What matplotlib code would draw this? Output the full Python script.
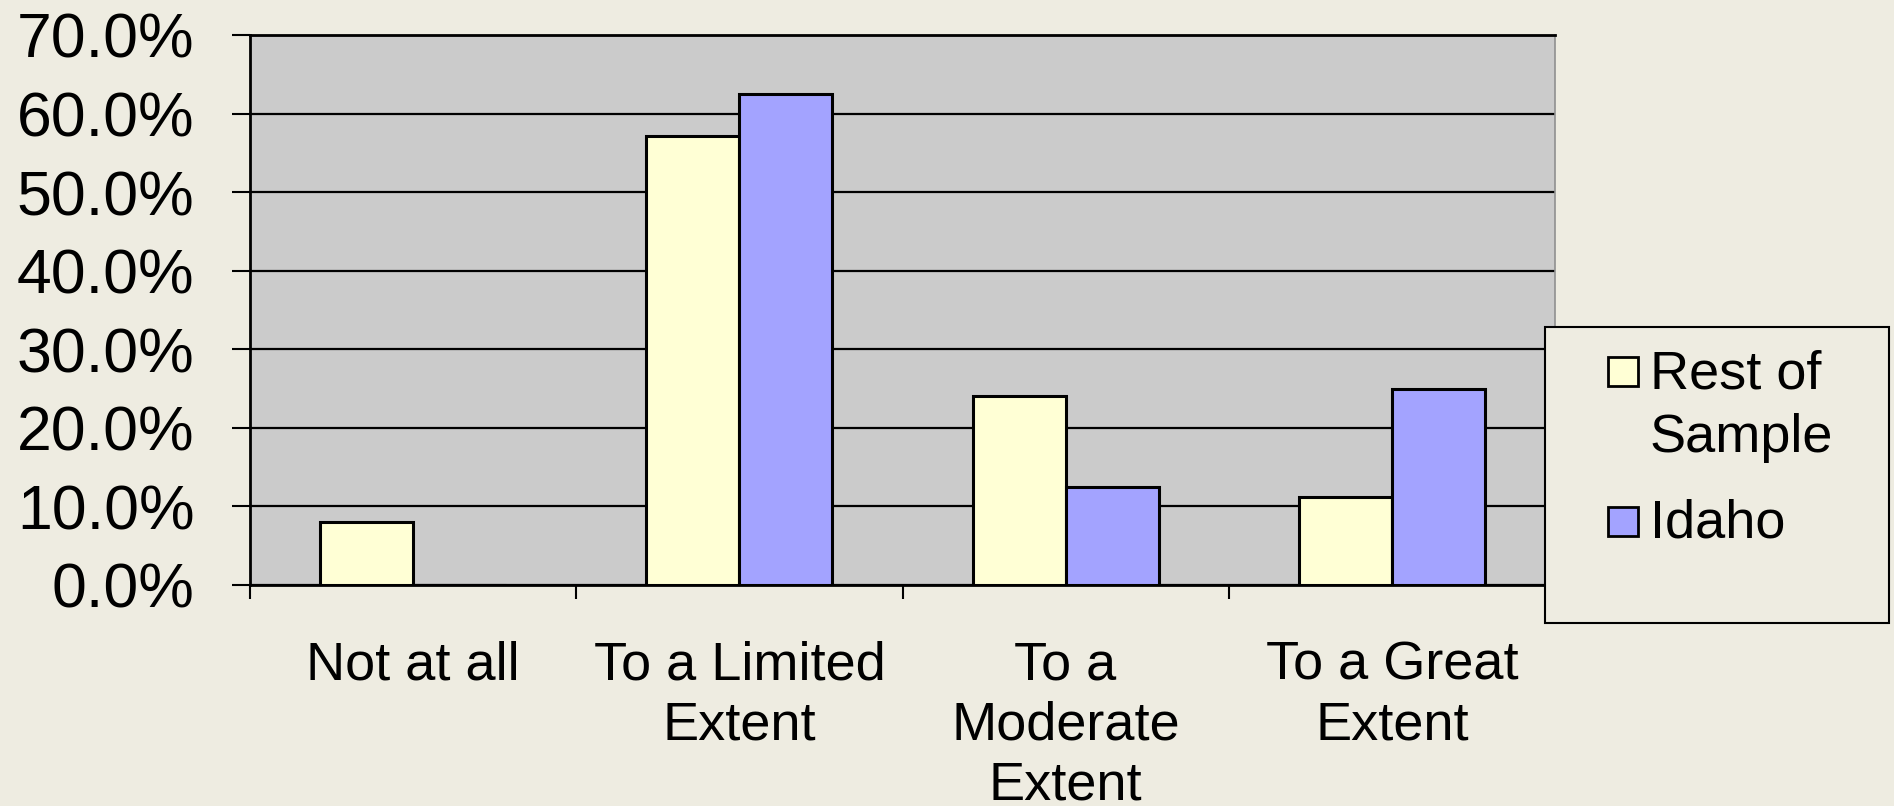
import matplotlib
matplotlib.use("Agg")
import matplotlib.pyplot as plt
import numpy as np
from matplotlib.patches import Rectangle

categories = ["Not at all", "To a Limited\nExtent", "To a\nModerate\nExtent", "To a Great\nExtent"]
series_names = ["Rest of\nSample", "Idaho"]
rest_of_sample = [8.0, 57.1, 24.0, 11.2]
idaho = [0.0, 62.5, 12.5, 25.0]
yticks = [0, 10, 20, 30, 40, 50, 60, 70]
ytick_labels = ["0.0%", "10.0%", "20.0%", "30.0%", "40.0%", "50.0%", "60.0%", "70.0%"]

BG = "#EEECE1"
PLOT_BG = "#CBCBCB"
C_REST = "#FFFFD5"
C_IDAHO = "#A3A3FF"
colors = [C_REST, C_IDAHO]

plt.rcParams['font.family'] = ['Liberation Sans', 'DejaVu Sans']

W, H = 1894, 806
fig = plt.figure(figsize=(W / 100, H / 100), dpi=100, facecolor=BG)
L, R, T, B = 250, 1555, 35, 585
ax = fig.add_axes([L / W, 1 - B / H, (R - L) / W, (B - T) / H])
ax.set_facecolor(PLOT_BG)

x = np.arange(len(categories))
bw = 0.285
ax.bar(x - bw / 2, rest_of_sample, bw, color=C_REST, edgecolor="black", linewidth=2.2, zorder=3)
ax.bar(x + bw / 2, idaho, bw, color=C_IDAHO, edgecolor="black", linewidth=2.2, zorder=3)

ax.set_xlim(-0.5, len(categories) - 0.5)
ax.set_ylim(0, 70)

ax.set_yticks(yticks)
ax.set_yticklabels(ytick_labels, fontsize=45)
ax.tick_params(axis='y', length=13, width=1.5, pad=27, colors='black')
ax.yaxis.grid(True, color='black', linewidth=1.6, zorder=1)
ax.set_axisbelow(True)

ax.set_xticks(np.arange(len(categories) + 1) - 0.5)
ax.set_xticklabels([])
ax.tick_params(axis='x', which='major', length=10, width=1.5, direction='out')
ax.set_xticks(x, minor=True)
ax.set_xticklabels(categories, minor=True, fontsize=39, linespacing=1.26)
ax.tick_params(axis='x', which='minor', length=0, pad=40)

for s in ['left', 'bottom', 'top']:
    ax.spines[s].set_color('black')
    ax.spines[s].set_linewidth(2.0)
ax.spines['right'].set_color('#909090')
ax.spines['right'].set_linewidth(1.2)

# Legend (drawn manually to match layout)
lx0, ly0, lx1, ly1 = 1545, 327, 1889, 623
fig.patches.append(Rectangle((lx0 / W, 1 - ly1 / H), (lx1 - lx0) / W, (ly1 - ly0) / H,
                             transform=fig.transFigure, facecolor=BG, edgecolor='black',
                             linewidth=1.5, zorder=5))
marker_tops = [357, 507]
first_baselines = [389, 538]
line_step = 63
for name, col, mt, bl in zip(series_names, colors, marker_tops, first_baselines):
    fig.patches.append(Rectangle((1608 / W, 1 - (mt + 29) / H), 30 / W, 29 / H,
                                 transform=fig.transFigure, facecolor=col,
                                 edgecolor='black', linewidth=2.0, zorder=6))
    for i, line in enumerate(name.split("\n")):
        fig.text(1650 / W, 1 - (bl + i * line_step) / H, line, fontsize=39,
                 ha='left', va='baseline', zorder=7)

fig.savefig("out.png", dpi=100, facecolor=BG)
